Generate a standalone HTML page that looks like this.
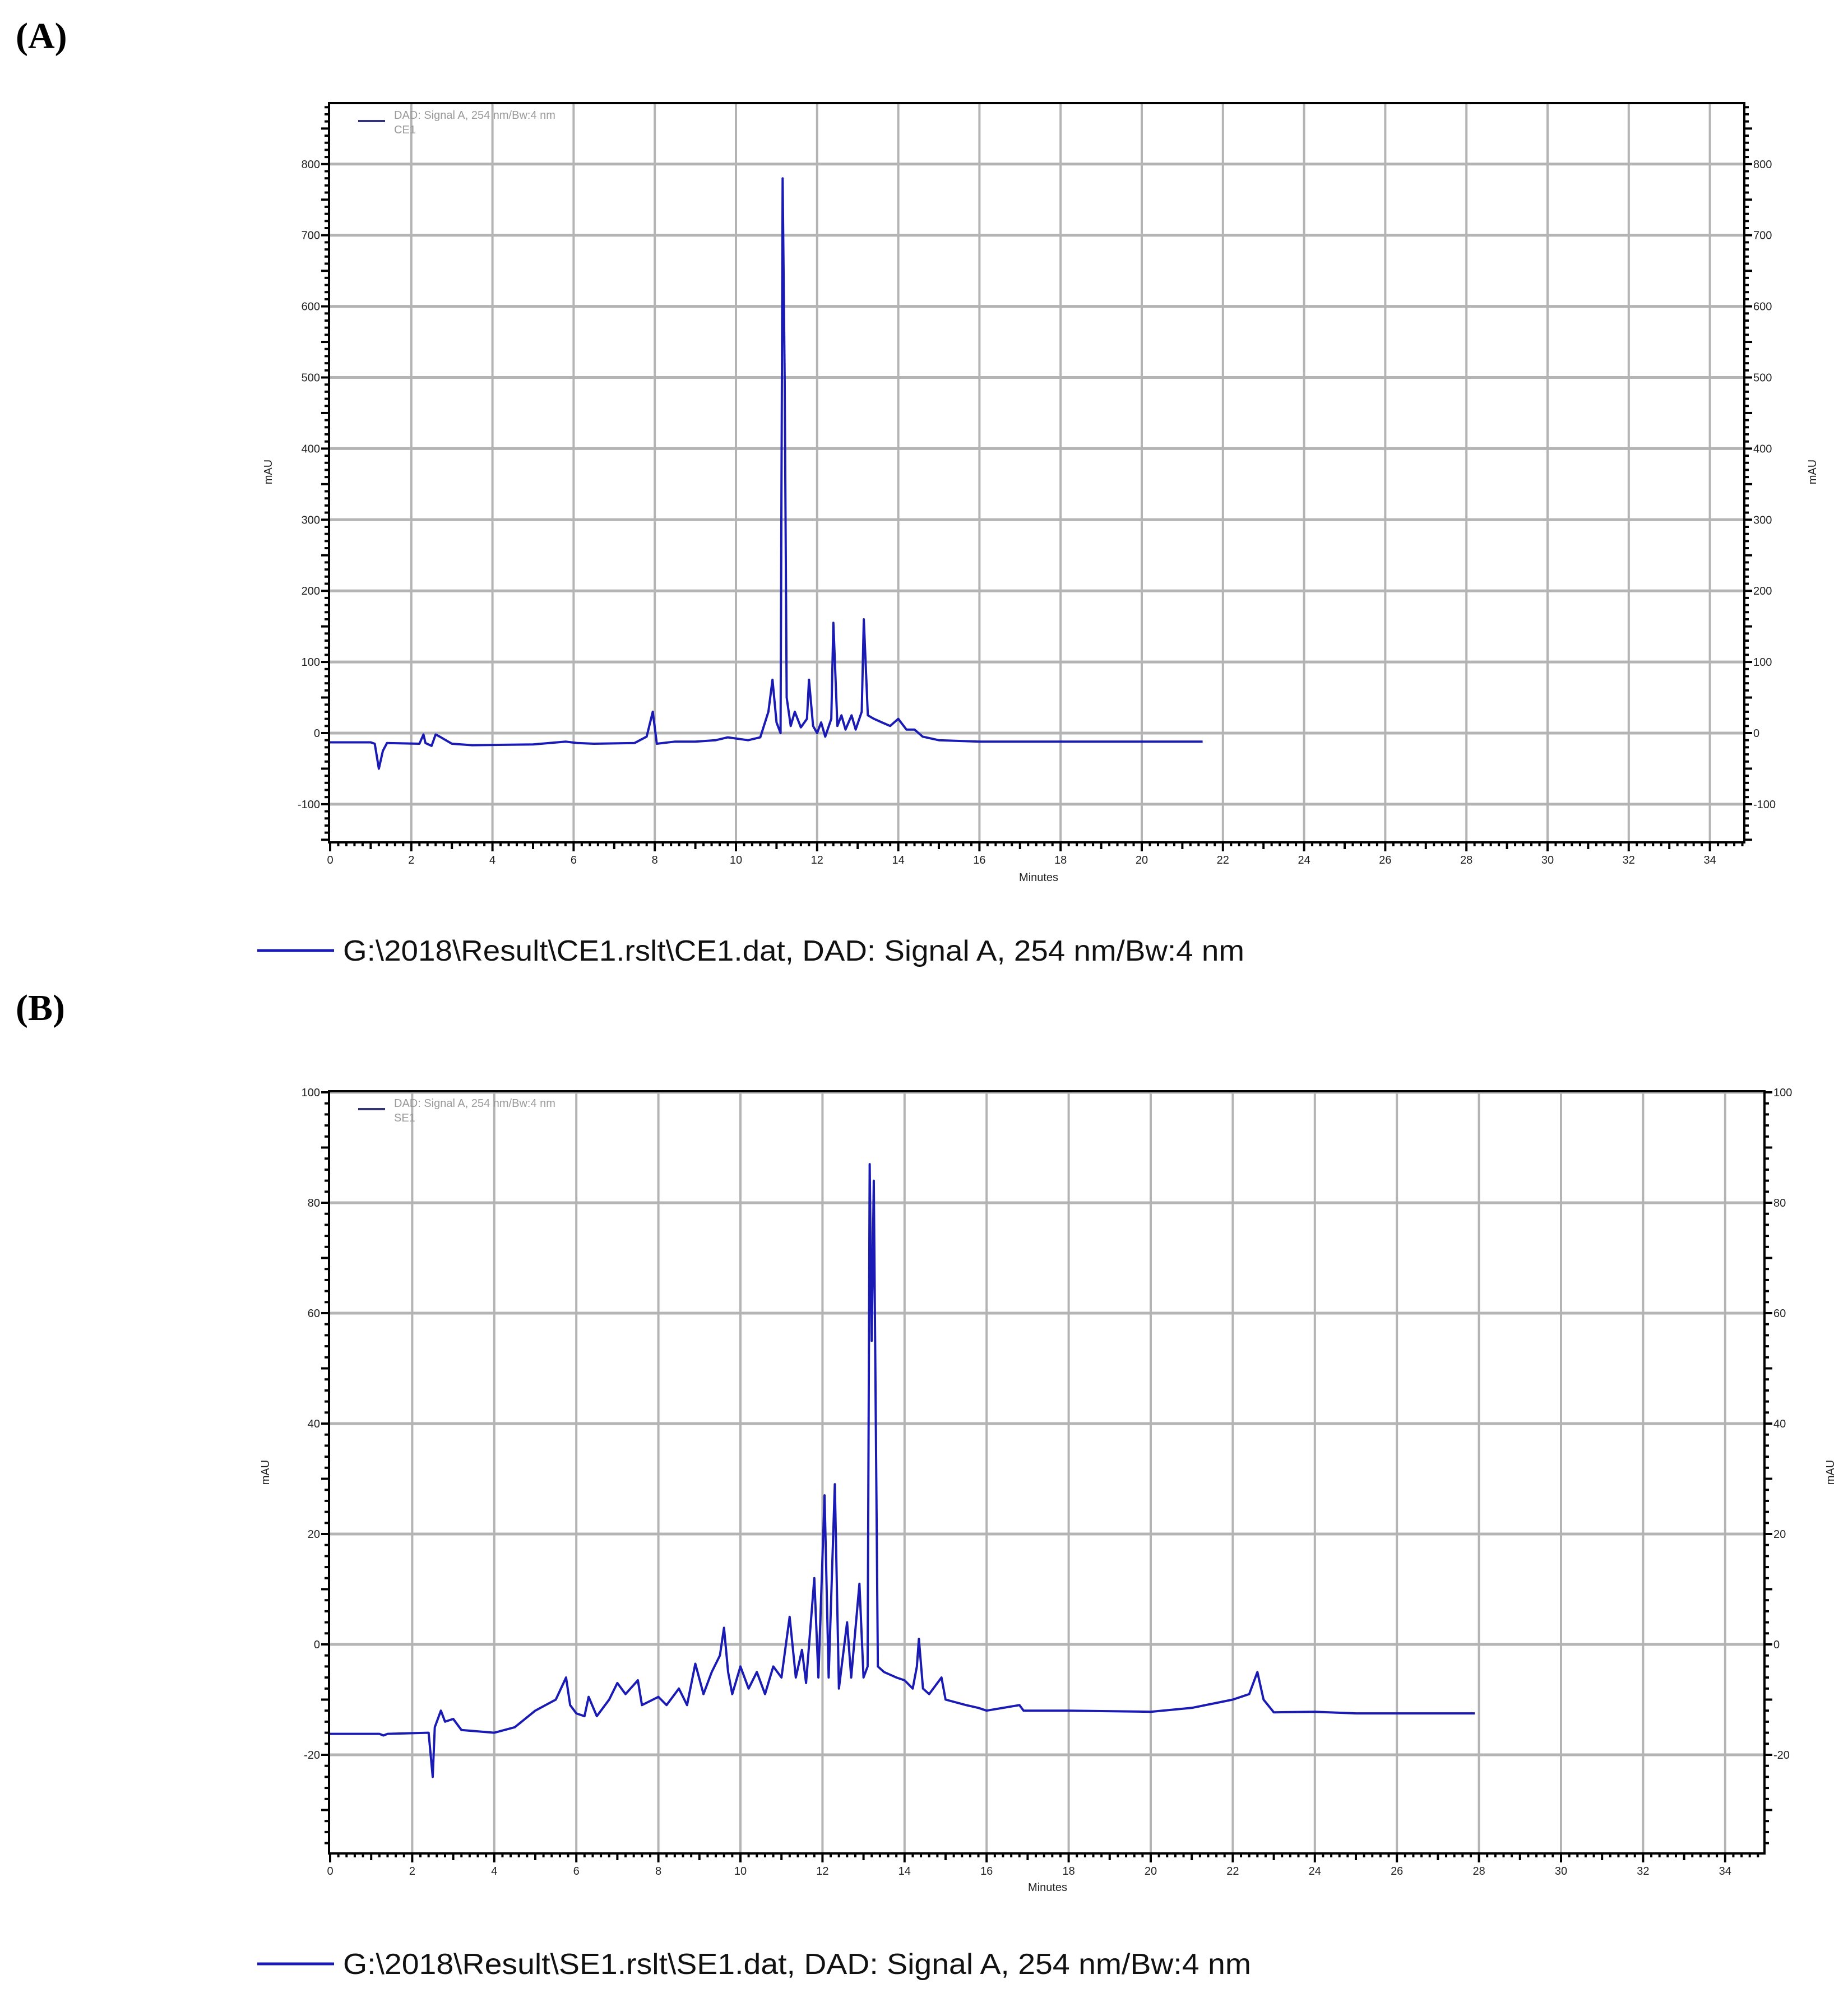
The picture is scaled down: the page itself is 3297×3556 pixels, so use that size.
<!DOCTYPE html>
<html><head><meta charset="utf-8"><style>
html,body{margin:0;padding:0;background:#fff;}
svg{display:block;font-family:"Liberation Sans",sans-serif;}
</style></head><body>
<svg id="fig" width="3297" height="3556" viewBox="0 0 3297 3556">
<text x="28" y="86" font-family="Liberation Serif" font-weight="bold" font-size="66">(A)</text>
<text x="28" y="1820" font-family="Liberation Serif" font-weight="bold" font-size="66">(B)</text>
</svg>
<script>
// Panel A data
const timesA=[0,1.0,1.1,1.2,1.3,1.4,2.2,2.3,2.35,2.5,2.6,2.7,3.0,3.5,5.0,5.8,6.1,6.5,7.5,7.8,7.95,8.05,8.5,9.0,9.5,9.8,10.3,10.6,10.8,10.9,11.0,11.1,11.15,11.2,11.25,11.35,11.45,11.6,11.75,11.8,11.9,12.0,12.1,12.2,12.35,12.4,12.5,12.6,12.7,12.85,12.95,13.1,13.15,13.25,13.4,13.6,13.8,14.0,14.2,14.4,14.6,15,16,21.5];
const valuesA=[-13,-13,-15,-50,-25,-14,-15,-2,-14,-18,-2,-5,-15,-17,-16,-12,-14,-15,-14,-5,30,-15,-12,-12,-10,-6,-10,-6,30,75,15,0,780,500,50,10,30,8,20,75,10,0,15,-5,20,155,10,25,5,25,5,30,160,25,20,15,10,20,5,5,-5,-10,-12,-12];
const yTicksA=[-100,0,100,200,300,400,500,600,700,800];
// Panel B data
const timesB=[0,1.2,1.3,1.4,2.4,2.5,2.55,2.7,2.8,3.0,3.2,4.0,4.5,5.0,5.5,5.75,5.85,6.0,6.2,6.3,6.5,6.8,7.0,7.2,7.5,7.6,8.0,8.2,8.5,8.7,8.9,9.1,9.3,9.5,9.6,9.7,9.8,10.0,10.2,10.4,10.6,10.8,11.0,11.2,11.35,11.5,11.6,11.8,11.9,12.05,12.15,12.3,12.4,12.6,12.7,12.9,13.0,13.1,13.15,13.2,13.25,13.35,13.5,13.8,14.0,14.2,14.3,14.35,14.45,14.6,14.9,15.0,15.5,15.8,16.0,16.8,16.9,18,20,21,22,22.4,22.6,22.75,23,24,25,27.9];
const valuesB=[-16.2,-16.2,-16.5,-16.2,-16,-24,-15,-12,-14,-13.5,-15.5,-16,-15,-12,-10,-6,-11,-12.5,-13,-9.5,-13,-10,-7,-9,-6.5,-11,-9.5,-11,-8,-11,-3.5,-9,-5,-2,3,-5,-9,-4,-8,-5,-9,-4,-6,5,-6,-1,-7,12,-6,27,-6,29,-8,4,-6,11,-6,-4,87,55,84,-4,-5,-6,-6.5,-8,-4,1,-8,-9,-6,-10,-11,-11.5,-12,-11,-12,-12,-12.2,-11.5,-10,-9,-5,-10,-12.3,-12.2,-12.5,-12.5];
const yTicksB=[-20,0,20,40,60,80,100];
const xTicks=[0,2,4,6,8,10,12,14,16,18,20,22,24,26,28,30,32,34];

const NS="http://www.w3.org/2000/svg";
const svg=document.getElementById('fig');
function mk(tag,attrs,parent){const e=document.createElementNS(NS,tag);for(const k in attrs)e.setAttribute(k,attrs[k]);(parent||svg).appendChild(e);return e;}

function panel(o){
  const g=mk('g',{});
  
  
  const X=t=>o.x0+(t-0)*o.pxMin;
  const Y=v=>o.y0-v*o.pxUnit;
  xTicks.forEach(t=>{if(t>0){const l=mk('line',{x1:X(t),x2:X(t),y1:o.top,y2:o.bottom,stroke:'#b4b4b4','stroke-width':4},g);
    }});
  o.yTicks.forEach(v=>{const l=mk('line',{x1:o.left,x2:o.right,y1:Y(v),y2:Y(v),stroke:'#b4b4b4','stroke-width':5},g);
    });
  const fr=mk('rect',{x:o.left,y:o.top,width:o.right-o.left,height:o.bottom-o.top,fill:'none',stroke:'#000','stroke-width':4},g);
  
  for(let t=0;t<=35;t+=0.2){const tt=Math.round(t*10)/10;const major=Math.abs(tt-Math.round(tt))<1e-6;const len=(tt%2===0)?16:(major?12:7);
    if(X(tt)>o.right)break;
    const l=mk('line',{x1:X(tt),x2:X(tt),y1:o.bottom,y2:o.bottom+len,stroke:'#000','stroke-width':4},g);
    }
  const vmin=o.vmin,vmax=o.vmax;
  for(let v=Math.ceil(vmin/o.minor)*o.minor;v<=vmax;v+=o.minor){const maj=Math.abs(v%o.major)<1e-6;const len=maj?14:8;
    [[o.left,-1],[o.right,1]].forEach(([x,d])=>{const l=mk('line',{x1:x,x2:x+d*len,y1:Y(v),y2:Y(v),stroke:'#000','stroke-width':4},g);
    });}
  xTicks.forEach(t=>{const tx=mk('text',{x:X(t),y:o.bottom+38,'font-size':20,'text-anchor':'middle',fill:'#222'},g);tx.textContent=t;
    });
  o.yTicks.forEach(v=>{const a=mk('text',{x:o.left-16,y:Y(v)+7,'font-size':20,'text-anchor':'end',fill:'#222'},g);a.textContent=v;
    
    const b=mk('text',{x:o.right+16,y:Y(v)+7,'font-size':20,'text-anchor':'start',fill:'#222'},g);b.textContent=v;
    });
  const xt=mk('text',{x:o.minX,y:o.minY,'font-size':20,'text-anchor':'middle',fill:'#222'},g);xt.textContent='Minutes';
  
  [[o.mauL,'y-axis-title-left'],[o.mauR,'y-axis-title-right']].forEach(([x,n])=>{const t=mk('text',{x:x,y:o.mauY,'font-size':20,'text-anchor':'middle',fill:'#222',transform:`rotate(-90 ${x} ${o.mauY})`},g);t.textContent='mAU';
    });
  const il=mk('line',{x1:o.left+52,x2:o.left+100,y1:o.top+32,y2:o.top+32,stroke:'#333377','stroke-width':4},g);
  
  const t1=mk('text',{x:o.left+116,y:o.top+28,'font-size':20,fill:'#999'},g);t1.textContent='DAD: Signal A, 254 nm/Bw:4 nm';
  
  const t2=mk('text',{x:o.left+116,y:o.top+54,'font-size':20,fill:'#999'},g);t2.textContent=o.sample;
  
  const d=o.times.map((t,i)=>(i?'L':'M')+X(t).toFixed(1)+','+Y(o.vals[i]).toFixed(1)).join(' ');
  const p=mk('path',{d:d,fill:'none',stroke:'#1a1ab4','stroke-width':4,'stroke-linejoin':'round'},g);
  
  const bl=mk('line',{x1:459,x2:596,y1:o.legY,y2:o.legY,stroke:'#1a1ab4','stroke-width':5},g);
  
  const bt=mk('text',{x:612,y:o.legY+18,'font-size':52,fill:'#111',textLength:o.legLen,lengthAdjust:'spacingAndGlyphs'},g);bt.textContent=o.legend;
  
}
panel({name:'panel-a-chart',left:587,right:3112,top:184,bottom:1503,x0:589,pxMin:72.4,y0:1308,pxUnit:1.269,
  vmin:-154,vmax:886,minor:10,major:50,yTicks:yTicksA,times:timesA,vals:valuesA,
  minX:1853,minY:1572,mauL:485,mauR:3240,mauY:842,sample:'CE1',legY:1696,legLen:1608,
  legend:'G:\\2018\\Result\\CE1.rslt\\CE1.dat, DAD: Signal A, 254 nm/Bw:4 nm'});
panel({name:'panel-b-chart',left:587,right:3148,top:1947,bottom:3307,x0:589,pxMin:73.2,y0:2934,pxUnit:9.85,
  vmin:-37.8,vmax:100,minor:2,major:10,yTicks:yTicksB,times:timesB,vals:valuesB,
  minX:1869,minY:3374,mauL:480,mauR:3272,mauY:2627,sample:'SE1',legY:3504,legLen:1620,
  legend:'G:\\2018\\Result\\SE1.rslt\\SE1.dat, DAD: Signal A, 254 nm/Bw:4 nm'});
</script>
</body></html>
